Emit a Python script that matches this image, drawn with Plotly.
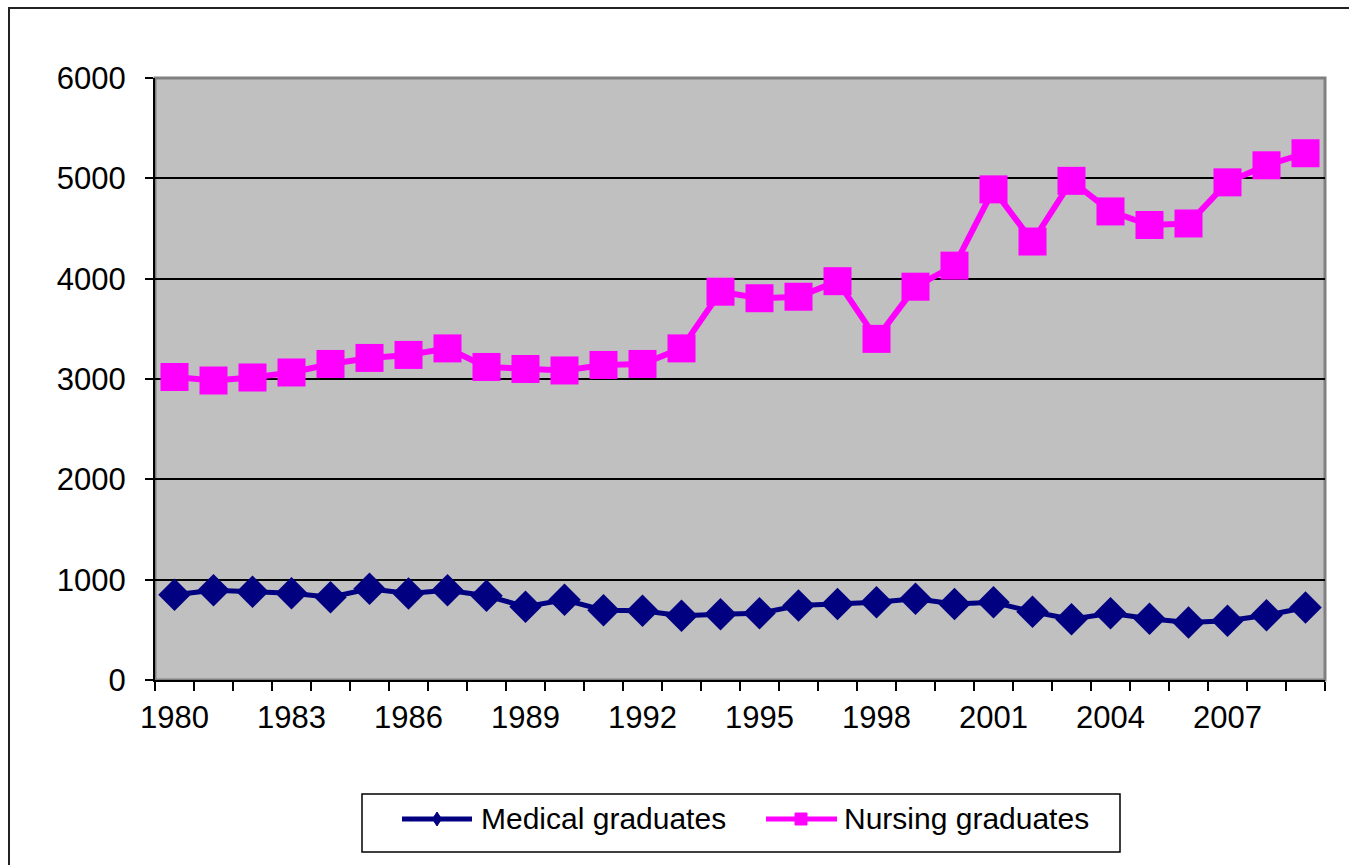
import plotly.graph_objects as go

years = list(range(1980, 2010))
medical = [850, 895, 880, 865, 825, 910, 862, 895, 840, 730,
           800, 695, 690, 640, 655, 665, 742, 757, 775, 810,
           757, 775, 680, 605, 665, 610, 572, 590, 645, 722]
nursing = [3020, 2985, 3015, 3065, 3150, 3210, 3240, 3305, 3120, 3100,
           3085, 3140, 3150, 3305, 3870, 3805, 3820, 3975, 3400, 3920,
           4130, 4890, 4370, 4975, 4670, 4535, 4550, 4960, 5130, 5250]
series_names = ["Medical graduates", "Nursing graduates"]
x_tick_years = list(range(1980, 2010, 3))
y_ticks = [0, 1000, 2000, 3000, 4000, 5000, 6000]

NAVY = "#000080"
MAGENTA = "#FF00FF"
FONT = "Liberation Sans, Arial, sans-serif"

W, H = 1349, 865
L, R, T, B = 155, 1325, 78, 680  # plot area in px

fig = go.Figure()
fig.add_trace(go.Scatter(
    x=years, y=medical, mode="lines+markers", name=series_names[0],
    line=dict(color=NAVY, width=5),
    marker=dict(symbol="diamond", size=25, color=NAVY),
    showlegend=False, cliponaxis=False))
fig.add_trace(go.Scatter(
    x=years, y=nursing, mode="lines+markers", name=series_names[1],
    line=dict(color=MAGENTA, width=6),
    marker=dict(symbol="square", size=28, color=MAGENTA),
    showlegend=False, cliponaxis=False))

def px_x(p):
    return (p - L) / (R - L)

def px_y(p):
    return (B - p) / (B - T)

shapes = []
# outer chart border (top and left visible)
shapes.append(dict(type="rect", xref="paper", yref="paper",
                   x0=px_x(9), x1=px_x(1400), y0=px_y(900), y1=px_y(8),
                   line=dict(color="#222222", width=2), fillcolor="rgba(0,0,0,0)",
                   layer="below"))
# plot area grey border
shapes.append(dict(type="rect", xref="paper", yref="paper",
                   x0=0, x1=1, y0=0, y1=1,
                   line=dict(color="#808080", width=3), fillcolor="rgba(0,0,0,0)",
                   layer="below"))
# legend box
lx0, lx1, ly0, ly1 = 362, 1120, 794, 852
shapes.append(dict(type="rect", xref="paper", yref="paper",
                   x0=px_x(lx0), x1=px_x(lx1), y0=px_y(ly1), y1=px_y(ly0),
                   line=dict(color="#000000", width=1.5), fillcolor="white"))
ly = 819
# medical legend sample
shapes.append(dict(type="line", xref="paper", yref="paper",
                   x0=px_x(402), x1=px_x(472), y0=px_y(ly), y1=px_y(ly),
                   line=dict(color=NAVY, width=5)))
dx, dy = 4.5, 7
shapes.append(dict(type="path", xref="paper", yref="paper",
                   path=f"M {px_x(437)},{px_y(ly-dy)} L {px_x(437+dx)},{px_y(ly)} "
                        f"L {px_x(437)},{px_y(ly+dy)} L {px_x(437-dx)},{px_y(ly)} Z",
                   line=dict(color=NAVY, width=1), fillcolor=NAVY))
# nursing legend sample
shapes.append(dict(type="line", xref="paper", yref="paper",
                   x0=px_x(766), x1=px_x(837), y0=px_y(ly), y1=px_y(ly),
                   line=dict(color=MAGENTA, width=5)))
s = 6
shapes.append(dict(type="rect", xref="paper", yref="paper",
                   x0=px_x(801 - s), x1=px_x(801 + s), y0=px_y(ly + s), y1=px_y(ly - s),
                   line=dict(color=MAGENTA, width=1), fillcolor=MAGENTA))

annotations = [
    dict(xref="paper", yref="paper", x=px_x(479), y=px_y(ly), text=series_names[0],
         showarrow=False, xanchor="left", yanchor="middle",
         font=dict(family=FONT, size=30, color="black")),
    dict(xref="paper", yref="paper", x=px_x(842), y=px_y(ly), text=series_names[1],
         showarrow=False, xanchor="left", yanchor="middle",
         font=dict(family=FONT, size=30, color="black")),
]

fig.update_layout(
    width=W, height=H,
    margin=dict(l=L, r=W - R, t=T, b=H - B, pad=0),
    paper_bgcolor="white",
    plot_bgcolor="#C0C0C0",
    font=dict(family=FONT, size=31, color="black"),
    shapes=shapes,
    annotations=annotations,
    xaxis=dict(
        range=[1979.5, 2009.5], tickmode="array", tickvals=x_tick_years,
        ticktext=[str(v) for v in x_tick_years],
        ticks="", showgrid=False, zeroline=False,
        showline=True, linecolor="black", linewidth=2,
        ticklabelstandoff=9,
        minor=dict(tick0=1979.5, dtick=1, ticks="outside", ticklen=9,
                   tickcolor="black", tickwidth=2, showgrid=False),
        fixedrange=True,
    ),
    yaxis=dict(
        range=[0, 6000], tickmode="array", tickvals=y_ticks,
        ticks="outside", ticklen=8, tickcolor="black", tickwidth=2,
        showgrid=True, gridcolor="black", gridwidth=1.5,
        zeroline=False, showline=True, linecolor="black", linewidth=2,
        ticklabelstandoff=13,
        fixedrange=True,
    ),
)

fig.write_html("out.html",
               config={"displayModeBar": False},
               post_script="document.body.style.margin='0';document.body.style.overflow='hidden';")
